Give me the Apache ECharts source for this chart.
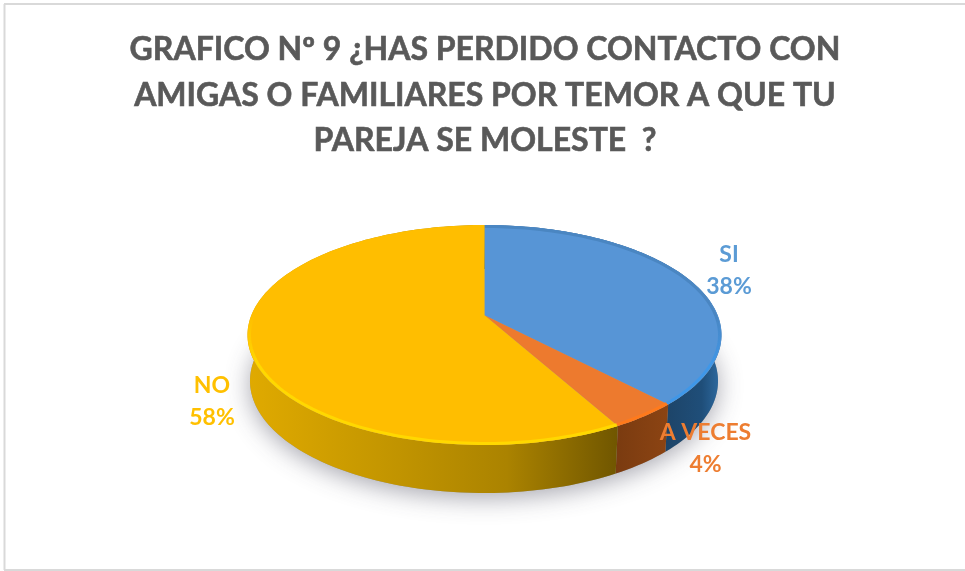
<!DOCTYPE html>
<html>
<head>
<meta charset="utf-8">
<style>html,body{margin:0;padding:0;background:#fff}#c{width:965px;height:571px;filter:blur(0.4px)}</style>
<script src="https://cdn.jsdelivr.net/npm/echarts@6/dist/echarts.min.js"></script>
</head>
<body>
<div id="c"></div>
<script>
// ---- data ----
const titleLines = ['GRAFICO Nº 9 ¿HAS PERDIDO CONTACTO CON', 'AMIGAS O FAMILIARES POR TEMOR A QUE TU', 'PAREJA SE MOLESTE  ?'];
const categories = ['SI', 'A VECES', 'NO'];
const values = [38, 4, 58];

// ---- styles ----
const topColors = ['#5795d6', '#ed7a2e', '#ffbe00'];
const labelColors = ['#5b9bd5', '#ed7d31', '#ffc000'];
// rim highlight: colour at the back of the pie, colour at the front
const rimColors = [['#4a86c2', '#3f97e8'], ['#ff7a1c', '#ff7a1c'], ['rgba(255,216,0,0)', '#ffd800']];
const wallStops = [
  [[0, '#1d4468'], [0.65, '#1f4e79'], [1, '#2f6ca3']],
  [[0, '#7a3b10'], [1, '#8c4413']],
  [[0, '#e0aa00'], [0.3, '#c99a00'], [0.7, '#ab8300'], [1, '#705600']]
];
// ---- layout of the tilted pie (pixels) ----
const TOP = {cx: 484.5, cy: 335, rx: 237, ry: 110};
const BOTTOM = {cx: 484, cy: 381, rx: 234, ry: 112};
const TILT = 0.18; // how far perspective moves the pie centre towards the back
const labelPos = [[729, 254.5], [705.5, 433], [212, 386]];
const labelGap = 32;

const total = values.reduce((a, b) => a + b, 0);
const startOf = i => values.slice(0, i).reduce((a, b) => a + b, 0);

// fraction of the pie (clockwise from 12 o'clock) -> unit-disc point under perspective
function project(frac) {
  const a = frac * 2 * Math.PI, s = Math.sin(a), c = Math.cos(a);
  const d = 1 + TILT * c;
  return [s * Math.sqrt(1 - TILT * TILT) / d, (c + TILT) / d];
}
const onEllipse = (e, p) => [e.cx + e.rx * p[0], e.cy - e.ry * p[1]];
function arc(e, f0, f1) {
  const n = Math.max(2, Math.ceil((f1 - f0) * 240)), out = [];
  for (let k = 0; k <= n; k++) out.push(onEllipse(e, project(f0 + (f1 - f0) * k / n)));
  return out;
}
const apex = () => [TOP.cx, TOP.cy - TOP.ry * TILT];

function renderBase(params, api) {
  const pts = arc(BOTTOM, 0, api.value(0) / total);
  return {type: 'polygon', shape: {points: pts}, style: {fill: '#9a9a9a', shadowBlur: 24, shadowColor: 'rgba(60,60,80,0.45)', shadowOffsetY: 5}};
}
function renderWall(params, api) {
  const i = params.dataIndex;
  const f0 = startOf(i) / total, f1 = f0 + api.value(0) / total;
  const a = arc(TOP, f0, f1), b = arc(BOTTOM, f0, f1).reverse();
  const xs = a.concat(b).filter(p => p[1] > TOP.cy - 5).map(p => p[0]);
  const g = new echarts.graphic.LinearGradient(Math.min(...xs), 0, Math.max(...xs), 0,
    wallStops[i].map(s => ({offset: s[0], color: s[1]})), true);
  return {type: 'polygon', shape: {points: a.concat(b)}, style: {fill: g}};
}
function renderTop(params, api) {
  const i = params.dataIndex;
  const f0 = startOf(i) / total, f1 = f0 + api.value(0) / total;
  const edge = arc(TOP, f0, f1);
  const inner = {cx: TOP.cx, cy: TOP.cy, rx: TOP.rx - 2, ry: TOP.ry - 1.5};
  const rim = new echarts.graphic.LinearGradient(0, TOP.cy - 20, 0, TOP.cy + 30,
    [{offset: 0, color: rimColors[i][0]}, {offset: 1, color: rimColors[i][1]}], true);
  const pct = Math.round(api.value(0) / total * 100) + '%';
  return {type: 'group', children: [
    {type: 'polygon', shape: {points: [apex()].concat(edge)}, style: {fill: topColors[i]}},
    {type: 'polyline', shape: {points: arc(inner, f0, f1)}, style: {stroke: rim, lineWidth: 3, fill: null}},
    {type: 'text', z2: 5, x: labelPos[i][0], y: labelPos[i][1], style: {text: categories[i], fill: labelColors[i], font: 'bold 23px Lato', align: 'center', verticalAlign: 'middle'}},
    {type: 'text', z2: 5, x: labelPos[i][0], y: labelPos[i][1] + labelGap, style: {text: pct, fill: labelColors[i], font: 'bold 23px Lato', align: 'center', verticalAlign: 'middle'}}
  ]};
}
const rows = values.map((v, i) => ({name: categories[i], value: [v]}));
const chart = echarts.init(document.getElementById('c'), null, {renderer: 'canvas'});
const frame = {stroke: '#d9d9d9', lineWidth: 2};
chart.setOption({
  backgroundColor: '#fff',
  animation: false,
  title: {
    text: titleLines.join('\n'), left: 480, top: 22, textAlign: 'center',
    textStyle: {fontFamily: 'Lato', fontWeight: 'bold', fontSize: 32, lineHeight: 45.5, color: '#595959', textBorderColor: '#595959', textBorderWidth: 0.6}
  },
  graphic: [
    {type: 'line', shape: {x1: 4, y1: 4, x2: 965, y2: 4}, style: frame},
    {type: 'line', shape: {x1: 4.5, y1: 4, x2: 4.5, y2: 570}, style: frame},
    {type: 'line', shape: {x1: 4, y1: 570, x2: 965, y2: 570}, style: frame}
  ],
  series: [
    {type: 'custom', name: 'base', coordinateSystem: 'none', silent: true, z: 1, renderItem: renderBase, data: [{name: 'total', value: [total]}]},
    {type: 'custom', name: 'wall', coordinateSystem: 'none', silent: true, z: 2, renderItem: renderWall, data: rows},
    {type: 'custom', name: 'top', coordinateSystem: 'none', silent: true, z: 3, renderItem: renderTop, data: rows}
  ]
});
</script>
</body>
</html>
